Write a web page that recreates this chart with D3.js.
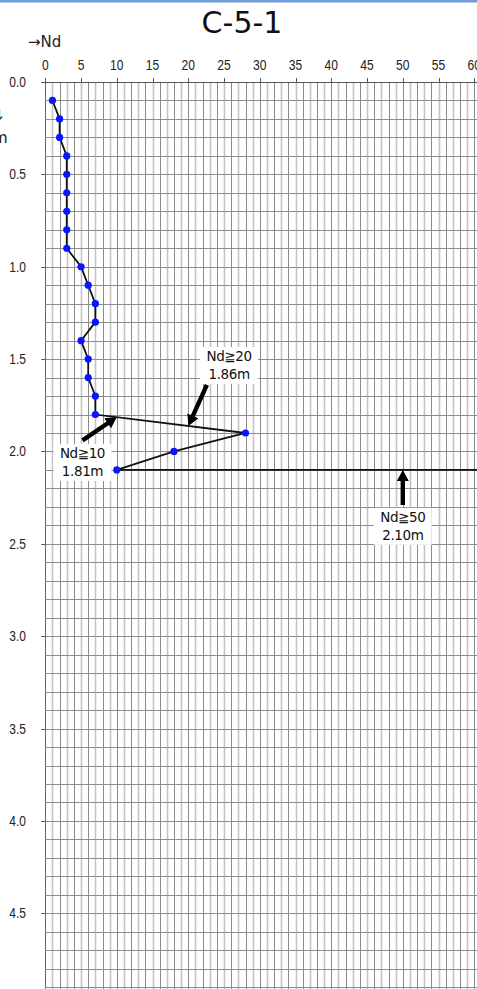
<!DOCTYPE html>
<html><head><meta charset="utf-8">
<script src="https://cdn.jsdelivr.net/npm/d3@7"></script>
<style>body{margin:0;background:#fff;overflow:hidden}svg{display:block}</style>
</head><body>
<script>
const title = "C-5-1";
const depths = [0.1,0.2,0.3,0.4,0.5,0.6,0.7,0.8,0.9,1.0,1.1,1.2,1.3,1.4,1.5,1.6,1.7,1.8,1.9,2.0,2.1];
const ndValues = [1,2,2,3,3,3,3,3,3,5,6,7,7,5,6,6,7,7,28,18,10];
const xTicks = [0,5,10,15,20,25,30,35,40,45,50,55,60];
const yTicks = [0.0,0.5,1.0,1.5,2.0,2.5,3.0,3.5,4.0,4.5];
const cutoffNd = [10, 64];
const cutoffDepth = 2.1;
const annLabels = [["Nd≧20","1.86m"],["Nd≧10","1.81m"],["Nd≧50","2.10m"]];
const annLabelNd = [25.7, 5.2, 50];
const annLabelDepth = [1.483, 2.008, 2.354];
const annArrowFromNd = [22.6, 5.2, 50];
const annArrowFromDepth = [1.64, 1.94, 2.29];
const annArrowToNd = [20, 10, 50];
const annArrowToDepth = [1.862, 1.814, 2.10];

const W = 477, H = 989;
const svg = d3.select("body").append("svg").attr("width", W).attr("height", H);

const x = d3.scaleLinear().domain([0, 60]).range([45.3, 474.3]);
const y = d3.scaleLinear().domain([0, 4.5]).range([82, 913.3]);

// top blue rule
svg.append("rect").attr("x",0).attr("y",0).attr("width",W).attr("height",2.5).attr("fill","#6f9bd6");

svg.append("text").attr("x",242).attr("y",33).attr("text-anchor","middle")
  .attr("font-family","DejaVu Sans").attr("font-size",30).attr("fill","#111").text(title);
svg.append("text").attr("x",28).attr("y",47)
  .attr("font-family","DejaVu Sans").attr("font-size",15).attr("fill","#222").text("→Nd");
svg.append("text").attr("x",-7).attr("y",120)
  .attr("font-family","DejaVu Sans").attr("font-size",15).attr("fill","#222").text("↓");
svg.append("text").attr("x",-7).attr("y",143)
  .attr("font-family","DejaVu Sans").attr("font-size",15).attr("fill","#222").text("m");

const g = svg.append("g");
const xGrid = d3.range(0, 63, 1);
const yGrid = d3.range(0, 50, 1).map(d => d / 10);
// vertical grid
g.selectAll("line.vg").data(xGrid).join("line")
  .attr("x1", d => Math.round(x(d)) + 0.5).attr("x2", d => Math.round(x(d)) + 0.5)
  .attr("y1", y(0)).attr("y2", H)
  .attr("stroke", d => d === 0 ? "#666" : (d % 2 === 0 ? "#8a8a8a" : "#c4c4c4"))
  .attr("stroke-width", d => d % 2 === 0 ? 1 : 1.6);
// horizontal grid
g.selectAll("line.hg").data(yGrid).join("line")
  .attr("x1", x(0)).attr("x2", W)
  .attr("y1", d => Math.round(y(d)) + 0.5).attr("y2", d => Math.round(y(d)) + 0.5)
  .attr("stroke", d => d === 0 ? "#555" : "#8c8c8c").attr("stroke-width", 1);
// major ticks
g.selectAll("line.xt").data(xTicks).join("line")
  .attr("x1", d => Math.round(x(d)) + 0.5).attr("x2", d => Math.round(x(d)) + 0.5)
  .attr("y1", y(0) - 4).attr("y2", y(0)).attr("stroke", "#555");
g.selectAll("line.yt").data(yTicks).join("line")
  .attr("x1", x(0) - 4).attr("x2", x(0))
  .attr("y1", d => Math.round(y(d)) + 0.5).attr("y2", d => Math.round(y(d)) + 0.5).attr("stroke", "#555");

// tick labels (condensed)
g.selectAll("text.xl").data(xTicks).join("text")
  .attr("transform", d => `translate(${x(d)},${y(0) - 12}) scale(0.78,1)`)
  .attr("text-anchor", "middle").attr("font-family", "Liberation Sans").attr("font-size", 15.5)
  .attr("fill", "#222").text(d => d);
g.selectAll("text.yl").data(yTicks).join("text")
  .attr("transform", d => `translate(${26},${y(d) + 5}) scale(0.8,1)`)
  .attr("text-anchor", "end").attr("font-family", "Liberation Sans").attr("font-size", 15)
  .attr("fill", "#222").text(d => d.toFixed(1));

// data line
const pts = depths.map((d, i) => [ndValues[i], d]);
const line = d3.line().x(d => x(d[0])).y(d => y(d[1]));
svg.append("path").attr("d", line(pts)).attr("fill", "none").attr("stroke", "#111").attr("stroke-width", 1.8);
svg.append("path").attr("d", line(cutoffNd.map(n => [n, cutoffDepth]))).attr("fill", "none")
  .attr("stroke", "#111").attr("stroke-width", 1.8);
svg.selectAll("circle").data(pts).join("circle")
  .attr("cx", d => x(d[0])).attr("cy", d => y(d[1])).attr("r", 3.6).attr("fill", "#0a14ff");

// annotations
function arrow(x1, y1, x2, y2) {
  const a = Math.atan2(y2 - y1, x2 - x1);
  const hl = 11, hw = 6, sw = 2.2;
  const bx = x2 - hl * Math.cos(a), by = y2 - hl * Math.sin(a);
  const px = -Math.sin(a), py = Math.cos(a);
  const p = [
    [x1 + px * sw, y1 + py * sw], [bx + px * sw, by + py * sw], [bx + px * hw, by + py * hw],
    [x2, y2], [bx - px * hw, by - py * hw], [bx - px * sw, by - py * sw], [x1 - px * sw, y1 - py * sw]
  ];
  svg.append("path").attr("d", "M" + p.map(q => q.join(",")).join("L") + "Z").attr("fill", "#000");
}
annLabels.forEach((lab, i) => {
  arrow(x(annArrowFromNd[i]), y(annArrowFromDepth[i]), x(annArrowToNd[i]), y(annArrowToDepth[i]));
  const cx = x(annLabelNd[i]), cy = y(annLabelDepth[i]);
  svg.append("rect").attr("x", cx - 29).attr("y", cy - 9).attr("width", 58).attr("height", 37).attr("fill", "#fff");
  lab.forEach((t, j) => {
    svg.append("text").attr("x", cx).attr("y", cy + 5 + j * 18.5).attr("text-anchor", "middle")
      .attr("font-family", "DejaVu Sans").attr("font-size", 13.5).attr("fill", "#111")
      .attr("letter-spacing", -0.4).text(t);
  });
});
</script>
</body></html>
